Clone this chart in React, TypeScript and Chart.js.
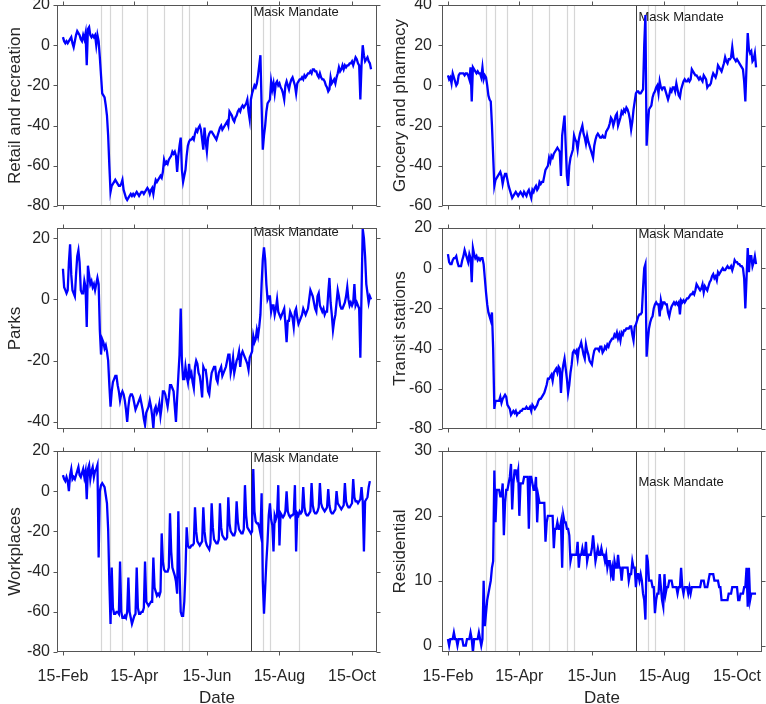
import { useEffect, useRef } from 'react'
import { Chart, registerables } from 'chart.js'

Chart.register(...registerables)

const FONT = '"Liberation Sans", Arial, Helvetica, sans-serif'
const INK = '#262626'

// x = days since 15-Feb-2020
const xTickDays = [0, 60, 121, 182, 243]
const xTickLabels = ['15-Feb', '15-Apr', '15-Jun', '15-Aug', '15-Oct']
const eventDays = [31.7, 39.8, 49.8, 70.8, 84.8, 100, 106.2, 167.9, 173.7, 198.5]
const maskDay = 157.7

const retail = [
  4, 2, 1, 2, 1, 2, 3, 4, 1, -1,
  2, 5, 7, 6, 5, 3, 2, 5, 3, 6,
  -10, 8, 9, 5, 4, 5, 4, 5, 0, 5,
  2, -6, -15, -24, -25, -26, -30, -35, -45, -60,
  -73, -70, -69, -68, -67, -68, -69, -70, -70, -69,
  -67, -72, -74, -76, -77, -76, -75, -74, -75, -74,
  -75, -74, -73, -74, -75, -74, -73, -73, -74, -73,
  -72, -71, -72, -74, -72, -71, -74, -70, -67, -68,
  -67, -66, -65, -66, -63, -57, -59, -58, -59, -57,
  -56, -55, -53, -54, -53, -55, -63, -55, -50, -46,
  -62, -68, -65, -62, -55, -50, -48, -47, -47, -46,
  -47, -44, -42, -43, -41, -40, -42, -47, -52, -41,
  -48, -53, -46, -44, -43, -43, -44, -45, -46, -47,
  -45, -43, -41, -40, -42, -41, -40, -39, -38, -40,
  -33, -34, -35, -37, -38, -36, -35, -33, -32, -33,
  -31, -30, -31, -30, -29, -27, -33, -37, -27, -24,
  -22, -20, -21, -19, -15, -10, -5, -30, -52, -45,
  -40, -33, -29, -28, -27, -18, -22, -19, -24, -19,
  -18, -20, -19, -21, -22, -24, -27, -20, -18, -20,
  -22, -19, -17, -16, -18, -20, -24, -19, -18, -17,
  -17, -16, -17, -15, -16, -15, -14, -14, -13, -14,
  -12, -12, -13, -13, -15, -16, -14, -16, -17, -17,
  -18, -20, -21, -23, -22, -16, -19, -18, -17, -19,
  -16, -14, -11, -13, -12, -10, -12, -10, -11, -10,
  -10, -9, -9, -8, -10, -8, -6, -7, -9, -10,
  -27, -10, 0, -5, -8, -7, -6, -8, -9, -12,
]

const grocery = [
  5, 3, 4, 1, 6, 4, 2, 0, 1, 5,
  6, 6, 6, 6, 5, 6, 6, 5, 3, 9,
  -8, 9, 8, 7, 6, 7, 6, 6, 4, 9,
  3, 5, 4, 0, -5, -7, -8, -20, -35, -50,
  -47, -46, -45, -44, -43, -45, -49, -46, -44, -44,
  -47, -50, -52, -54, -56, -55, -54, -53, -54, -55,
  -54, -53, -54, -55, -53, -54, -55, -53, -52, -54,
  -56, -52, -53, -51, -50, -52, -51, -48, -49, -48,
  -48, -45, -42, -41, -40, -36, -38, -35, -36, -34,
  -33, -32, -31, -32, -33, -45, -25, -20, -15, -30,
  -45, -50, -40, -36, -34, -32, -25, -27, -28, -32,
  -27, -24, -22, -20, -24, -26, -29, -25, -28, -30,
  -32, -34, -36, -30, -27, -25, -24, -25, -26, -26,
  -25, -26, -26, -23, -22, -21, -19, -16, -17, -20,
  -18, -15, -14, -20, -18, -16, -13, -14, -12, -13,
  -11, -12, -14, -17, -22, -18, -12, -8, -4, -3,
  -3, -4, -4, -3, -2, 20, 35, -30, -20, -12,
  -11, -10, -6, -4, -3, -1, 0, -4, 2, -1,
  -2, -1, -1, -3, -5, -7, -5, -2, -3, -1,
  -1, -3, 1, -2, -5, -6, -2, 0, 2, 3,
  2, 2, 3, 2, 3, 8, 7, 6, 5, 5,
  4, 3, 4, 3, 2, 5, 4, 3, -1, 0,
  0, 1, 4, 6, 5, 4, 6, 10, 9, 8,
  7, 9, 11, 14, 12, 11, 13, 13, 14, 19,
  14, 13, 12, 13, 12, 11, 10, 9, 8, 2,
  -8, 10, 26, 18, 16, 17, 12, 13, 16, 9,
]

const parks = [
  10, 4, 3, 2, 3, 12, 18, 8, 3, 2,
  1, 8, 14, 16, 12, 3, 2, 2, 6, 4,
  -9, 11, 8, 5, 6, 4, 5, 3, 5, 7,
  5, -10, -18, -13, -14, -16, -15, -17, -20, -28,
  -35, -30, -27, -26, -25, -25, -28, -30, -33, -31,
  -30, -31, -33, -36, -40, -35, -32, -31, -31, -32,
  -34, -36, -35, -34, -33, -32, -34, -36, -39, -41,
  -37, -36, -35, -33, -35, -38, -42, -36, -35, -37,
  -36, -34, -38, -35, -30, -30, -31, -33, -35, -32,
  -28, -28, -29, -30, -35, -40, -32, -25, -18, -3,
  -20, -26, -26, -22, -25, -27, -21, -25, -24, -27,
  -29, -22, -20, -21, -24, -25, -28, -32, -22, -23,
  -23, -26, -30, -31, -27, -24, -23, -22, -22, -26,
  -27, -24, -23, -22, -25, -24, -23, -22, -20, -18,
  -18, -24, -22, -19, -24, -22, -20, -19, -17, -22,
  -18, -17, -18, -19, -20, -21, -23, -19, -18, -17,
  -12, -14, -13, -10, -12, -9, -5, 5, 13, 17,
  13, 5, 0, 1, 1, -4, -2, -2, -5, -3,
  0, -4, -5, -6, -5, -4, -3, -8, -14, -7,
  -7, -4, -5, -6, -9, -4, -3, -6, -8, -7,
  -6, -5, -3, -4, -5, -4, -3, 0, 3, 2,
  1, -1, -3, -4, 1, 2, -2, -3, -4, -3,
  -5, -4, -4, 2, 7, -1, -5, -10, -7, -5,
  -1, 3, 1, -2, -3, -3, -2, -1, 1, 4,
  0, -2, -1, -2, -1, 5, -2, -1, -2, -3,
  -19, 2, 23, 20, 14, 5, 2, -1, 1, 0,
]

const transit = [
  7, 3, 2, 2, 4, 5, 5, 6, 3, 1,
  1, 1, 4, 6, 9, 7, 5, 3, 7, 5,
  -7, 10, 7, 5, 6, 4, 5, 4, 5, 5,
  2, -5, -12, -18, -22, -24, -26, -22, -40, -70,
  -66, -66, -66, -66, -64, -67, -65, -64, -63, -64,
  -68, -69, -70, -73, -72, -71, -72, -71, -73, -72,
  -72, -71, -71, -70, -70, -70, -69, -70, -70, -69,
  -71, -68, -69, -70, -69, -68, -66, -65, -65, -64,
  -63, -62, -60, -58, -55, -55, -54, -53, -56, -52,
  -51, -50, -52, -49, -50, -62, -52, -48, -45, -50,
  -55, -62, -58, -52, -48, -42, -41, -42, -41, -45,
  -40, -39, -37, -40, -43, -45, -38, -41, -43, -46,
  -47, -48, -44, -41, -40, -40, -40, -41, -39, -39,
  -42, -41, -39, -40, -38, -39, -37, -36, -35, -35,
  -33, -34, -32, -35, -33, -36, -32, -33, -31, -31,
  -30, -30, -30, -29, -29, -33, -36, -29, -28, -26,
  -24, -23, -23, -22, -10, 0, 2, -44, -36, -30,
  -27, -25, -24, -20, -18, -17, -18, -18, -24, -16,
  -19, -17, -17, -18, -18, -22, -24, -21, -19, -18,
  -17, -18, -17, -18, -17, -23, -16, -17, -16, -17,
  -16, -15, -15, -14, -13, -13, -12, -13, -11, -8,
  -9, -10, -11, -10, -8, -12, -9, -10, -11, -9,
  -7, -6, -4, -3, -5, -4, -6, -2, -3, -2,
  -1, 0, -1, -1, 0, 1, 0, 0, 1, -1,
  1, 4, 3, 3, 2, 2, 1, 1, 0, -5,
  -20, -5, 10, -2, 6, 6, 1, 3, 6, 2,
]

const workplaces = [
  8, 6, 5, 7, 5, 0, 8, 11, 6, 7,
  6, 8, 10, 12, 8, 7, 9, 11, 7, 10,
  -4, 11, 13, 6, 10, 12, 7, 10, 11, 13,
  -33, 0, 3, 4, 3, 2, -2, -6, -19, -45,
  -66, -38, -58, -61, -61, -60, -60, -61, -35, -60,
  -63, -63, -62, -63, -60, -43, -60, -63, -66, -64,
  -62, -61, -38, -58, -61, -61, -60, -60, -58, -35,
  -55, -56, -57, -56, -55, -55, -33, -48, -50, -52,
  -51, -52, -50, -21, -35, -39, -40, -40, -40, -38,
  -11, -30, -38, -40, -42, -45, -51, -10, -40, -60,
  -62, -62, -55, -40, -18, -27, -28, -28, -27, -27,
  -26, -8, -20, -25, -26, -27, -26, -25, -8, -20,
  -25, -27, -28, -29, -26, -6, -18, -24, -25, -26,
  -26, -24, -6, -18, -22, -23, -24, -24, -23, -3,
  -16, -20, -21, -22, -22, -20, -5, -15, -19, -20,
  -21, -21, -19, 3, -12, -18, -19, -20, -21, -20,
  11, -10, -15, -16, -16, -18, -21, -1, -45, -61,
  -48, -35, -25, -12, -6, -14, -17, -30, -12, -14,
  -12, 3, -27, -11, -12, -13, -12, -10, 0, -10,
  -12, -13, -12, -12, -11, 3, -30, -11, -12, -10,
  -11, -10, 2, -8, -11, -12, -12, -11, -10, 4,
  -7, -10, -11, -11, -10, -8, 4, -6, -8, -9,
  -10, -9, -8, 1, -7, -10, -11, -11, -10, -9,
  0, -6, -7, -8, -9, -8, -7, 4, -5, -7,
  -8, -8, -7, -6, 6, -3, -5, -5, -6, -5,
  -4, 2, -5, -30, -5, -4, -3, 2, 5,
]

const residential = [
  1, 0, 1, 1, 1, 2, 1, 1, 0, 1,
  1, 1, 1, 0, 0, 0, 1, 1, 1, 2,
  1, -1, 1, 1, 1, 1, 2, 1, 0, 1,
  10, 3, 5, 7, 8, 9, 10, 12, 13, 27,
  19, 24, 24, 24, 23, 23, 25, 17, 22, 24,
  24, 25, 26, 28, 21, 25, 27, 27, 26, 27,
  20, 25, 25, 25, 26, 26, 26, 26, 18, 26,
  26, 25, 24, 24, 26, 19, 23, 22, 22, 22,
  22, 22, 16, 19, 20, 20, 20, 20, 20, 15,
  18, 18, 19, 18, 18, 19, 12, 20, 19, 19,
  18, 18, 17, 13, 14, 14, 14, 14, 14, 16,
  12, 14, 14, 15, 14, 14, 16, 13, 14, 14,
  14, 15, 17, 15, 13, 14, 15, 14, 14, 15,
  14, 14, 13, 14, 12, 13, 13, 11, 12, 10,
  13, 12, 12, 14, 12, 12, 10, 12, 12, 12,
  12, 12, 10, 11, 11, 13, 12, 12, 9, 11,
  11, 10, 11, 10, 8, 7, 4, 14, 13, 10,
  10, 10, 9, 9, 5, 7, 8, 8, 11, 9,
  7, 6, 11, 8, 9, 9, 10, 10, 10, 9,
  9, 9, 9, 8, 9, 9, 12, 9, 8, 9,
  9, 9, 8, 9, 8, 9, 9, 9, 9, 9,
  9, 9, 9, 10, 10, 10, 9, 9, 9, 10,
  11, 11, 11, 11, 10, 10, 10, 10, 9, 9,
  7, 7, 7, 7, 7, 7, 8, 8, 8, 9,
  9, 9, 9, 9, 7, 7, 8, 8, 8, 9,
  9, 12, 6, 12, 7, 8, 8, 8, 8, 8,
]

interface PanelCfg {
  label: string
  values: number[]
  yMin: number
  yMax: number
  yTicks: number[]
  textY: number
}

const panels: PanelCfg[] = [
  { label: 'Retail and recreation', values: retail, yMin: -80, yMax: 20, yTicks: [-80, -60, -40, -20, 0, 20], textY: 16.5 },
  { label: 'Grocery and pharmacy', values: grocery, yMin: -60, yMax: 40, yTicks: [-60, -40, -20, 0, 20, 40], textY: 33.8 },
  { label: 'Parks', values: parks, yMin: -42.3, yMax: 23.3, yTicks: [-40, -20, 0, 20], textY: 21.7 },
  { label: 'Transit stations', values: transit, yMin: -80, yMax: 20, yTicks: [-80, -60, -40, -20, 0, 20], textY: 16.6 },
  { label: 'Workplaces', values: workplaces, yMin: -80, yMax: 20, yTicks: [-80, -60, -40, -20, 0, 20], textY: 16.5 },
  { label: 'Residential', values: residential, yMin: -1, yMax: 30, yTicks: [0, 10, 20, 30], textY: 25.2 },
]

// canvases overlap a little (they are transparent) so nothing gets clipped
const colLeft = [0, 385]
const colWidth = [382, 381]
const rowTop = [0, 213, 436]
const rowPadTop = [5, 15, 15]
const rowHeight = [214, 224, 274]

// event lines, box, outward ticks, "Mask Mandate" note
const framePlugin = {
  id: 'frame',
  beforeDatasetsDraw(chart: any, _args: any, opts: any) {
    const { ctx, chartArea: a, scales: { x, y } } = chart
    ctx.save()
    ctx.lineWidth = 1.2
    ctx.strokeStyle = '#d6d6d6'
    ctx.beginPath()
    eventDays.forEach(d => {
      const px = Math.round(x.getPixelForValue(d)) + 0.5
      ctx.moveTo(px, a.top)
      ctx.lineTo(px, a.bottom)
    })
    ctx.stroke()
    const mx = Math.round(x.getPixelForValue(maskDay)) + 0.5
    ctx.lineWidth = 1
    ctx.strokeStyle = '#3c3c3c'
    ctx.beginPath()
    ctx.moveTo(mx, a.top)
    ctx.lineTo(mx, a.bottom)
    ctx.stroke()
    ctx.font = `13px ${FONT}`
    ctx.fillStyle = '#1a1a1a'
    ctx.textAlign = 'left'
    ctx.textBaseline = 'middle'
    ctx.fillText('Mask Mandate', mx + 2, y.getPixelForValue(opts.textY))
    ctx.restore()
  },
  afterDatasetsDraw(chart: any, _args: any, opts: any) {
    const { ctx, chartArea: a, scales: { x, y } } = chart
    const tl = 4
    ctx.save()
    ctx.lineWidth = 1
    ctx.strokeStyle = '#555555'
    const l = Math.round(a.left) + 0.5, r = Math.round(a.right) - 0.5
    const t = Math.round(a.top) + 0.5, b = Math.round(a.bottom) - 0.5
    ctx.strokeRect(l, t, r - l, b - t)
    ctx.beginPath()
    xTickDays.forEach(d => {
      const px = Math.round(x.getPixelForValue(d)) + 0.5
      ctx.moveTo(px, b); ctx.lineTo(px, b + tl)
      ctx.moveTo(px, t); ctx.lineTo(px, t - tl)
    })
    opts.yTicks.forEach((v: number) => {
      const py = Math.round(y.getPixelForValue(v)) + 0.5
      ctx.moveTo(l, py); ctx.lineTo(l - tl, py)
      ctx.moveTo(r, py); ctx.lineTo(r + tl, py)
    })
    ctx.stroke()
    ctx.restore()
  },
}

function MobilityPanel({ cfg, col, row }: { cfg: PanelCfg; col: number; row: number }) {
  const canvasRef = useRef<HTMLCanvasElement>(null)
  const isBottom = row === 2

  useEffect(() => {
    if (!canvasRef.current) return
    const chart = new Chart(canvasRef.current, {
      type: 'line',
      plugins: [framePlugin],
      data: {
        datasets: [{
          data: cfg.values.map((v, i) => ({ x: i, y: v })),
          borderColor: '#0000ff',
          borderWidth: 2.3,
          pointRadius: 0,
          tension: 0,
          fill: false,
        }],
      },
      options: {
        responsive: true,
        maintainAspectRatio: false,
        animation: false,
        layout: { padding: { top: rowPadTop[row], right: col === 0 ? 5 : 4, bottom: isBottom ? 0 : 8, left: 0 } },
        plugins: {
          legend: { display: false },
          tooltip: { enabled: false },
          frame: { yTicks: cfg.yTicks, textY: cfg.textY },
        },
        scales: {
          x: {
            type: 'linear',
            min: -5,
            max: 264,
            display: isBottom,
            grid: { display: false, drawTicks: false },
            border: { display: false },
            afterBuildTicks: (s: any) => { s.ticks = xTickDays.map(v => ({ value: v })) },
            afterFit: (s: any) => { s.height = isBottom ? 58 : 0; s.paddingLeft = 0; s.paddingRight = 0 },
            ticks: {
              autoSkip: false,
              maxRotation: 0,
              padding: 15,
              color: INK,
              font: { size: 16, family: FONT },
              callback: (v: any) => xTickLabels[xTickDays.indexOf(Number(v))] ?? '',
            },
            title: {
              display: true,
              text: 'Date',
              color: INK,
              font: { size: 17, family: FONT },
              padding: { top: 0, bottom: 1 },
            },
          },
          y: {
            min: cfg.yMin,
            max: cfg.yMax,
            grid: { display: false, drawTicks: false },
            border: { display: false },
            afterBuildTicks: (s: any) => { s.ticks = cfg.yTicks.map(v => ({ value: v })) },
            afterFit: (s: any) => { s.width = 57; s.paddingTop = 0; s.paddingBottom = 0 },
            ticks: {
              padding: col === 0 ? 7 : 10,
              color: INK,
              font: { size: 16, family: FONT },
            },
            title: {
              display: true,
              text: cfg.label,
              color: INK,
              font: { size: 17, family: FONT },
              padding: { top: 5, bottom: 0 },
            },
          },
        },
      },
    } as any)
    return () => { chart.destroy() }
    // eslint-disable-next-line react-hooks/exhaustive-deps
  }, [])

  return (
    <div style={{ position: 'absolute', left: colLeft[col], top: rowTop[row], width: colWidth[col], height: rowHeight[row] }}>
      <canvas ref={canvasRef} role="img" aria-label={cfg.label} />
    </div>
  )
}

export default function App() {
  return (
    <div style={{ position: 'absolute', left: 0, top: 0, width: 766, height: 704, overflow: 'hidden', background: '#fff' }}>
      {panels.map((p, i) => (
        <MobilityPanel key={p.label} cfg={p} col={i % 2} row={Math.floor(i / 2)} />
      ))}
    </div>
  )
}
